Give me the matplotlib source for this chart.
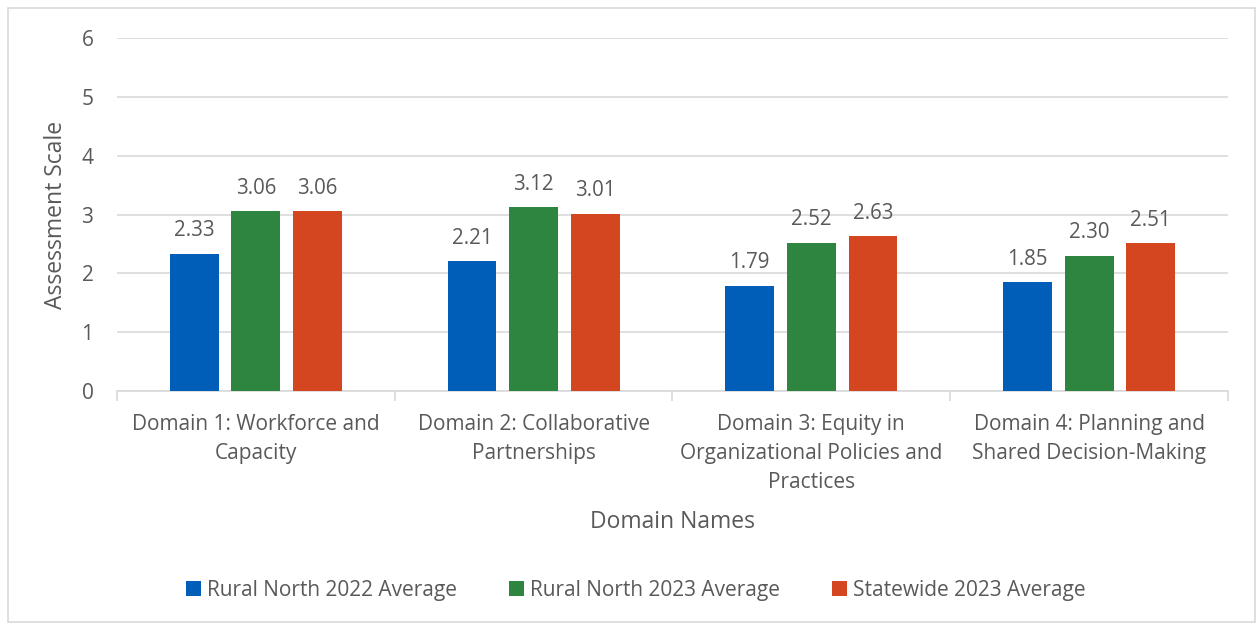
import matplotlib.pyplot as plt
import numpy as np

categories = ["Domain 1: Workforce and\nCapacity",
              "Domain 2: Collaborative\nPartnerships",
              "Domain 3: Equity in\nOrganizational Policies and\nPractices",
              "Domain 4: Planning and\nShared Decision-Making"]
series_names = ["Rural North 2022 Average", "Rural North 2023 Average", "Statewide 2023 Average"]
rn_2022 = [2.33, 2.21, 1.79, 1.85]
rn_2023 = [3.06, 3.12, 2.52, 2.30]
state_2023 = [3.06, 3.01, 2.63, 2.51]
colors = ["#005EB8", "#2E8540", "#D4461F"]

plt.rcParams['font.family'] = ['Open Sans', 'DejaVu Sans']
txt = "#595959"

fig = plt.figure(figsize=(12.57, 6.24), dpi=100)
ax = fig.add_axes([0.0931, 0.3734, 0.8838, 0.5656])

x = np.arange(len(categories))
w = 0.176
step = 0.222
for i, (vals, name) in enumerate(zip([rn_2022, rn_2023, state_2023], series_names)):
    pos = x + (i - 1) * step
    bars = ax.bar(pos, vals, w, color=colors[i], label=name, zorder=3)
    for b, v in zip(bars, vals):
        ax.annotate(f"{v:.2f}", (b.get_x() + b.get_width() / 2, v),
                    xytext=(0, 9), textcoords='offset points',
                    ha='center', va='bottom', fontsize=14.8, color=txt)

ax.set_xlim(-0.5, len(categories) - 0.5)
ax.set_ylim(0, 6)
ax.set_yticks(range(7))
ax.yaxis.grid(True, color="#d9d9d9", linewidth=1.2, zorder=0)
ax.set_axisbelow(True)
for s in ['top', 'right', 'left']:
    ax.spines[s].set_visible(False)
ax.spines['bottom'].set_color("#d9d9d9")
ax.spines['bottom'].set_linewidth(1.2)

ax.set_xticks(x)
ax.set_xticklabels(categories, fontsize=15, color=txt, linespacing=1.5)
ax.tick_params(axis='x', length=0, pad=16.5)
ax.set_xticks(np.arange(-0.5, len(categories)), minor=True)
ax.tick_params(axis='x', which='minor', length=7, color="#d9d9d9", width=1.2)
ax.tick_params(axis='y', length=0, labelsize=15, labelcolor=txt, pad=17)

ax.set_ylabel("Assessment Scale", fontsize=16.5, color=txt, labelpad=10)
ax.set_xlabel("Domain Names", fontsize=16.5, color=txt, labelpad=12)

fig.legend(*ax.get_legend_handles_labels(), loc='center',
           bbox_to_anchor=(0.506, 0.054), ncol=3, frameon=False,
           fontsize=15, labelcolor=txt, handlelength=0.7, handleheight=0.7,
           handletextpad=0.3, columnspacing=2.5)

fig.patches.append(plt.Rectangle((0.006, 0.003), 0.9925, 0.984, transform=fig.transFigure,
                                 fill=False, edgecolor="#d9d9d9", linewidth=1.2))

fig.savefig("out.png", dpi=100)
